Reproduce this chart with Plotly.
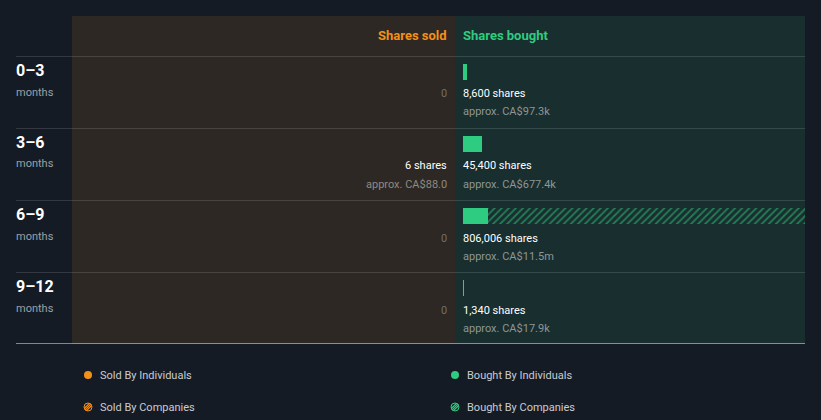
import plotly.graph_objects as go

# ---- data ----
periods = ["0–3", "3–6", "6–9", "9–12"]
period_unit = "months"
sold_individuals = [0, 6, 0, 0]
sold_companies = [0, 0, 0, 0]
sold_value_labels = [None, "approx. CA$88.0", None, None]
bought_individuals = [8600, 45400, 59000, 1340]
bought_companies = [0, 0, 747006, 0]
bought_value_labels = ["approx. CA$97.3k", "approx. CA$677.4k", "approx. CA$11.5m", "approx. CA$17.9k"]

W, H = 821, 420
BG = "#151b25"
SOLD_BG = "#2d2823"
BOUGHT_BG = "#192e2e"
ORANGE = "#f39019"
GREEN = "#2ecc80"
FONT = "Roboto"

def px(x):
    return x / W

def py(y):
    return 1 - y / H

bought_tot = [a + b for a, b in zip(bought_individuals, bought_companies)]
sold_tot = [a + b for a, b in zip(sold_individuals, sold_companies)]
xmax = max(bought_tot)

n = len(periods)
ypos = [i + 16 / 72 for i in range(n)]
bw = 16 / 72

fig = go.Figure()

# bought bars
fig.add_trace(go.Bar(x=bought_individuals, y=ypos, orientation="h", width=bw,
                     marker=dict(color=GREEN, line=dict(width=0)),
                     xaxis="x", yaxis="y", showlegend=False, hoverinfo="skip"))
fig.add_trace(go.Bar(x=bought_companies, y=ypos, orientation="h", width=bw,
                     marker=dict(color=BOUGHT_BG, line=dict(width=0),
                                 pattern=dict(shape="/", fgcolor=GREEN, bgcolor=BOUGHT_BG,
                                              size=5, solidity=0.35)),
                     xaxis="x", yaxis="y", showlegend=False, hoverinfo="skip"))
# sold bars
fig.add_trace(go.Bar(x=sold_individuals, y=ypos, orientation="h", width=bw,
                     marker=dict(color=ORANGE, line=dict(width=0)),
                     xaxis="x2", yaxis="y", showlegend=False, hoverinfo="skip"))
fig.add_trace(go.Bar(x=sold_companies, y=ypos, orientation="h", width=bw,
                     marker=dict(color=SOLD_BG, line=dict(width=0),
                                 pattern=dict(shape="/", fgcolor=ORANGE, bgcolor=SOLD_BG,
                                              size=5, solidity=0.35)),
                     xaxis="x2", yaxis="y", showlegend=False, hoverinfo="skip"))

shapes = []
# panel backgrounds
shapes.append(dict(type="rect", xref="paper", yref="paper", x0=px(72), x1=px(455), y0=py(344), y1=py(16),
                   fillcolor=SOLD_BG, line=dict(width=0), layer="below"))
shapes.append(dict(type="rect", xref="paper", yref="paper", x0=px(455), x1=px(805), y0=py(344), y1=py(16),
                   fillcolor=BOUGHT_BG, line=dict(width=0), layer="below"))
# row separators
for i in range(n):
    yy = 56 + 72 * i
    shapes.append(dict(type="line", xref="paper", yref="paper", x0=px(16), x1=px(805), y0=py(yy + 0.5), y1=py(yy + 0.5),
                       line=dict(color="rgba(255,255,255,0.13)", width=1), layer="below"))
shapes.append(dict(type="line", xref="paper", yref="paper", x0=px(16), x1=px(805), y0=py(343.5), y1=py(343.5),
                   line=dict(color="rgba(220,225,230,0.55)", width=1)))

ann = []

def add_text(text, x, y, anchor, color, size):
    shift = -2 if anchor == "left" else 2
    ann.append(dict(text=text, x=px(x), y=py(y), xref="paper", yref="paper",
                    xanchor=anchor, yanchor="middle", showarrow=False, xshift=shift,
                    font=dict(color=color, size=size, family=FONT)))

add_text("<b>Shares sold</b>", 447, 35, "right", ORANGE, 13)
add_text("<b>Shares bought</b>", 463, 35, "left", GREEN, 13)

def fmt_shares(v):
    return f"{v:,} shares"

for i in range(n):
    top = 56 + 72 * i
    add_text(f"<b>{periods[i]}</b>", 16, top + 14.5, "left", "#ffffff", 16)
    add_text(period_unit, 16, top + 36, "left", "#9ba0a6", 11)
    # bought
    add_text(fmt_shares(bought_tot[i]), 463, top + 38, "left", "#ffffff", 11)
    add_text(bought_value_labels[i], 463, top + 56, "left", "#8e9696", 11)
    # sold
    if sold_tot[i] == 0:
        add_text("0", 447, top + 38, "right", "#6f6e6b", 11)
    else:
        add_text(fmt_shares(sold_tot[i]), 447, top + 38, "right", "#ffffff", 11)
        add_text(sold_value_labels[i], 447, top + 56, "right", "#8e8a84", 11)

# legend
legend_items = [
    ("Sold By Individuals", 88, 375, ORANGE, False),
    ("Sold By Companies", 88, 407, ORANGE, True),
    ("Bought By Individuals", 455, 375, GREEN, False),
    ("Bought By Companies", 455, 407, GREEN, True),
]
r = 4
for label, cx, cy, col, hatched in legend_items:
    x0, x1 = px(cx - r), px(cx + r)
    y0, y1 = py(cy + r), py(cy - r)
    if not hatched:
        shapes.append(dict(type="circle", xref="paper", yref="paper", x0=x0, x1=x1, y0=y0, y1=y1,
                           fillcolor=col, line=dict(width=0)))
    else:
        shapes.append(dict(type="circle", xref="paper", yref="paper", x0=x0, x1=x1, y0=y0, y1=y1,
                           fillcolor="rgba(0,0,0,0)", line=dict(color=col, width=1)))
        for d in (-2.2, 0, 2.2):
            h = (r * r - d * d / 2) ** 0.5 * 0.7
            shapes.append(dict(type="line", xref="paper", yref="paper",
                               x0=px(cx + d / 2 - h), y0=py(cy + d / 2 + h),
                               x1=px(cx + d / 2 + h), y1=py(cy + d / 2 - h),
                               line=dict(color=col, width=1.2)))
    add_text(label, cx + 12, cy, "left", "#c9ccd0", 11)

fig.update_layout(
    width=W, height=H, margin=dict(l=0, r=0, t=0, b=0),
    paper_bgcolor=BG, plot_bgcolor="rgba(0,0,0,0)",
    barmode="stack", bargap=0,
    xaxis=dict(domain=[px(463), px(805)], range=[0, xmax], visible=False, fixedrange=True),
    xaxis2=dict(domain=[px(72), px(447)], range=[xmax, 0], visible=False, fixedrange=True, anchor="y"),
    yaxis=dict(domain=[py(344), py(56)], range=[n, 0], visible=False, fixedrange=True),
    shapes=shapes, annotations=ann, showlegend=False,
    font=dict(family=FONT),
)

fig.write_html("out.html", config={"displayModeBar": False})
